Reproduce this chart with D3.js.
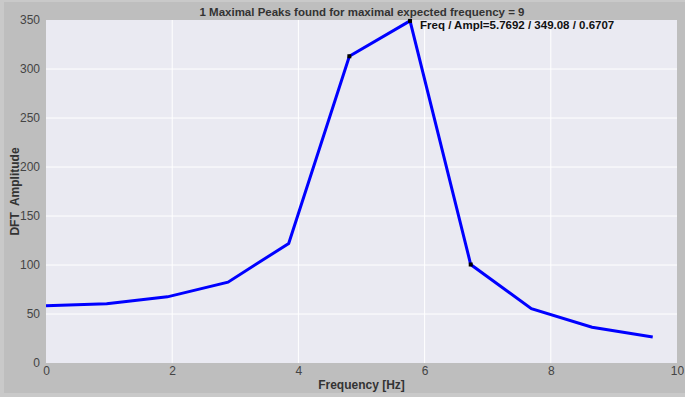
<!DOCTYPE html>
<html>
<head>
<meta charset="utf-8">
<style>
    body { margin:0; background:#bfbfbf; }
    svg text { font-family:"Liberation Sans", Arial, sans-serif; }
</style>
</head>
<body>
<div id="chart"></div>
<script src="https://cdn.jsdelivr.net/npm/d3@7/dist/d3.min.js"></script>
<script>
// spectrum values
var freqs = [0, 0.9615, 1.9231, 2.8846, 3.8462, 4.8077, 5.7692, 6.7308, 7.6923, 8.6538, 9.6154];
var ampls = [58.5, 60.5, 67.5, 82.5, 122, 313, 349.08, 100.5, 55.5, 36.5, 26.5];
var peakIdx = [5, 6, 7];
var xTicks = [0, 2, 4, 6, 8, 10];
var yTicks = [0, 50, 100, 150, 200, 250, 300, 350];
var title = "1 Maximal Peaks found for maximal expected frequency = 9";
var note = "Freq / Ampl=5.7692 / 349.08 / 0.6707";

var W = 685, H = 397;
var m = {left:46, right:8, top:20, bottom:34};

var svg = d3.select("#chart").append("svg")
    .attr("width", W).attr("height", H);

// light frame + figure face
svg.append("rect").attr("width", W).attr("height", H).attr("fill", "#c9c9c9");
svg.append("rect").attr("x", 4).attr("y", 2).attr("width", W - 4).attr("height", H - 6)
    .attr("fill", "#bebebe");

var x = d3.scaleLinear().domain([0, 10]).range([m.left, W - m.right]);
var y = d3.scaleLinear().domain([0, 350]).range([H - m.bottom, m.top]);

svg.append("rect")
    .attr("x", x(0)).attr("y", y(350))
    .attr("width", x(10) - x(0)).attr("height", y(0) - y(350))
    .attr("fill", "#eaeaf2");

// grid
svg.append("g").selectAll("line").data(xTicks.slice(1, -1)).enter().append("line")
    .attr("x1", function(d){ return x(d); }).attr("x2", function(d){ return x(d); })
    .attr("y1", y(0)).attr("y2", y(350))
    .attr("stroke", "#fff").attr("stroke-width", 1);
svg.append("g").selectAll("line").data(yTicks.slice(1, -1)).enter().append("line")
    .attr("y1", function(d){ return y(d); }).attr("y2", function(d){ return y(d); })
    .attr("x1", x(0)).attr("x2", x(10))
    .attr("stroke", "#fff").attr("stroke-width", 1);

// axes (no domain, no ticks, just labels)
var xAxis = svg.append("g").attr("transform", "translate(0," + y(0) + ")")
    .call(d3.axisBottom(x).tickValues(xTicks).tickSize(0).tickPadding(3));
var yAxis = svg.append("g").attr("transform", "translate(" + x(0) + ",0)")
    .call(d3.axisLeft(y).tickValues(yTicks).tickSize(0).tickPadding(6));
[xAxis, yAxis].forEach(function(a){
    a.select(".domain").remove();
    a.selectAll("text").attr("fill", "#444").style("font-size", "12px")
        .style("font-family", "'Liberation Sans', Arial, sans-serif");
});

// line
var line = d3.line()
    .x(function(d, i){ return x(freqs[i]); })
    .y(function(d){ return y(d); });
svg.append("path").datum(ampls)
    .attr("d", line)
    .attr("fill", "none").attr("stroke", "#0000ff")
    .attr("stroke-width", 3).attr("stroke-linejoin", "miter");

svg.append("g").selectAll("rect").data(peakIdx).enter().append("rect")
    .attr("x", function(i){ return x(freqs[i]) - 2; })
    .attr("y", function(i){ return y(ampls[i]) - 2; })
    .attr("width", 4).attr("height", 4)
    .attr("fill", "#000");

// texts
svg.append("text").attr("x", 362).attr("y", 16)
    .attr("text-anchor", "middle").attr("font-weight", "bold")
    .attr("font-size", 11.5).attr("fill", "#333").text(title);
svg.append("text").attr("x", x(freqs[6]) + 10).attr("y", 29)
    .attr("font-weight", "bold").attr("font-size", 11.5).attr("fill", "#111").text(note);
svg.append("text").attr("x", (x(0) + x(10)) / 2).attr("y", 389)
    .attr("text-anchor", "middle").attr("font-weight", "bold")
    .attr("font-size", 12).attr("fill", "#333").text("Frequency [Hz]");
svg.append("text")
    .attr("transform", "translate(19," + ((y(0) + y(350)) / 2) + ") rotate(-90)")
    .attr("text-anchor", "middle").attr("font-weight", "bold")
    .attr("font-size", 12).attr("fill", "#333").attr("xml:space", "preserve")
    .text("DFT  Amplitude");
</script>
</body>
</html>
